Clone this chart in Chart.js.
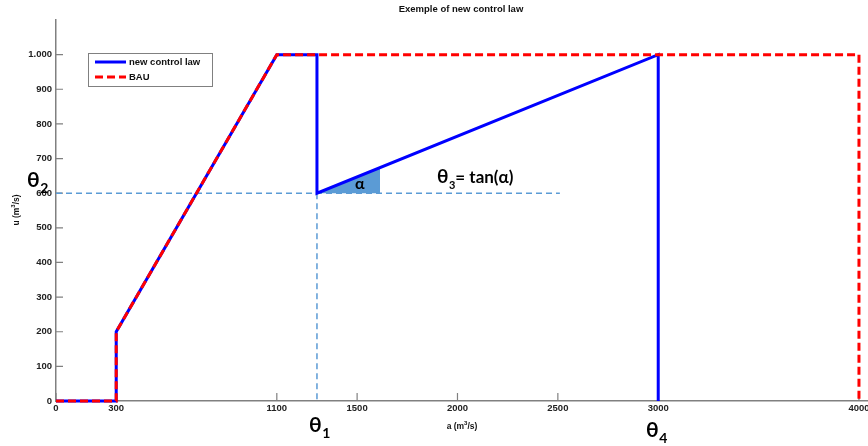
<!DOCTYPE html>
<html><head><meta charset="utf-8">
<script src="https://cdn.jsdelivr.net/npm/chart.js@4/dist/chart.umd.min.js"></script>
<style>html,body{margin:0;padding:0;background:#fff;overflow:hidden}</style>
</head><body>
<canvas id="c" width="868" height="446" style="display:block;width:868px;height:446px"></canvas>
<script>
// ---- data ----
const xTicks = [0, 300, 1100, 1500, 2000, 2500, 3000, 4000];
const yTicks = [0, 100, 200, 300, 400, 500, 600, 700, 800, 900, 1000];
const controlX = [0, 300, 300, 1100, 1300, 1300, 3000, 3000];
const controlY = [0, 0, 200, 1000, 1000, 600, 1000, 0];
const bauX = [0, 300, 300, 1100, 4000, 4000];
const bauY = [0, 0, 200, 1000, 1000, 0];
const guideHX = [0, 2510];
const guideHY = [600, 600];
const guideVX = [1300, 1300];
const guideVY = [600, 0];
const alphaX = [1300, 1614];
const alphaY = [600, 674];
const seriesNames = ['new control law', 'BAU'];

const pts = (xs, ys) => xs.map((x, i) => ({x: x, y: ys[i]}));
const BLUE = '#0000ff', RED = '#ff0000', LBLUE = '#5b9bd5';
const tickFont = {family: 'Liberation Sans, Arial, sans-serif', size: 9.5, weight: 'bold'};

const overlay = {
  id: 'overlay',
  beforeDatasetsDraw(chart) {
    const ctx = chart.ctx, xs = chart.scales.x, ys = chart.scales.y;
    const a = chart.chartArea;
    ctx.save();
    ctx.strokeStyle = '#808080'; ctx.lineWidth = 1.2;
    ctx.beginPath();
    xTicks.forEach(v => { const p = xs.getPixelForValue(v); ctx.moveTo(p, a.bottom); ctx.lineTo(p, a.bottom - 8); });
    yTicks.forEach(v => { const p = ys.getPixelForValue(v); ctx.moveTo(a.left, p); ctx.lineTo(a.left + 7, p); });
    ctx.stroke();
    ctx.restore();
  },
  afterDraw(chart) {
    const ctx = chart.ctx;
    ctx.save();
    ctx.fillStyle = '#111';
    ctx.textBaseline = 'middle';
    // title
    ctx.font = 'bold 9.5px "Liberation Sans", Arial, sans-serif';
    ctx.textAlign = 'center';
    ctx.fillText('Exemple of new control law', 461, 9);
    // x axis title
    ctx.font = 'bold 8.5px "Liberation Sans", Arial, sans-serif';
    ctx.textAlign = 'left';
    const xt1 = 'a (m', xt2 = '/s)';
    const w1 = ctx.measureText(xt1).width;
    ctx.font = 'bold 6px "Liberation Sans", Arial, sans-serif';
    const w3 = ctx.measureText('3').width;
    ctx.font = 'bold 8.5px "Liberation Sans", Arial, sans-serif';
    const w2 = ctx.measureText(xt2).width;
    let sx = 462 - (w1 + w3 + w2) / 2;
    ctx.fillText(xt1, sx, 427);
    ctx.font = 'bold 6px "Liberation Sans", Arial, sans-serif';
    ctx.fillText('3', sx + w1, 423);
    ctx.font = 'bold 8.5px "Liberation Sans", Arial, sans-serif';
    ctx.fillText(xt2, sx + w1 + w3, 427);
    // y axis title (rotated)
    ctx.save();
    ctx.translate(17, 210);
    ctx.rotate(-Math.PI / 2);
    const yt1 = 'u (m';
    const yw1 = ctx.measureText(yt1).width;
    sx = -(yw1 + w3 + w2) / 2;
    ctx.fillText(yt1, sx, 0);
    ctx.font = 'bold 6px "Liberation Sans", Arial, sans-serif';
    ctx.fillText('3', sx + yw1, -4);
    ctx.font = 'bold 8.5px "Liberation Sans", Arial, sans-serif';
    ctx.fillText(xt2, sx + yw1 + w3, 0);
    ctx.restore();

    // legend
    const lx = 88, ly = 53, lw = 124, lh = 33;
    ctx.fillStyle = '#fff';
    ctx.fillRect(lx, ly, lw, lh);
    ctx.strokeStyle = '#808080'; ctx.lineWidth = 1;
    ctx.strokeRect(lx + 0.5, ly + 0.5, lw, lh);
    const ds = chart.data.datasets;
    [[ds[0], 62], [ds[1], 77]].forEach(([d, yy]) => {
      ctx.strokeStyle = d.borderColor; ctx.lineWidth = 3;
      ctx.setLineDash(d.borderDash || []);
      ctx.beginPath(); ctx.moveTo(95, yy); ctx.lineTo(126, yy); ctx.stroke();
      ctx.setLineDash([]);
      ctx.fillStyle = '#111';
      ctx.font = 'bold 9.5px "Liberation Sans", Arial, sans-serif';
      ctx.textAlign = 'left';
      ctx.fillText(d.label, 129, yy + 0.5);
    });

    // theta annotations
    const big = (t, sub, x, y, size, subSize) => {
      ctx.font = 'bold ' + size + 'px Lato, "Open Sans", sans-serif';
      ctx.textAlign = 'left'; ctx.textBaseline = 'alphabetic';
      ctx.fillStyle = '#000';
      ctx.fillText(t, x, y);
      const w = ctx.measureText(t).width;
      ctx.font = 'bold ' + subSize + 'px Lato, "Open Sans", sans-serif';
      ctx.fillText(sub, x + w + 0.5, y + size * 0.3);
      return x + w + 0.5 + ctx.measureText(sub).width;
    };
    big('θ', '2', 27, 187, 21, 14);
    big('θ', '1', 309, 432, 21, 14);
    big('θ', '4', 646, 437, 21, 14);
    const ex = big('θ', '3', 437, 183, 19, 11);
    ctx.font = 'bold 17px Lato, "Open Sans", sans-serif';
    ctx.fillText('= tan(α)', ex, 183);
    ctx.font = 'bold 16px Lato, "Open Sans", sans-serif';
    ctx.fillText('α', 355, 189);
    ctx.restore();
  }
};

new Chart(document.getElementById('c'), {
  type: 'scatter',
  data: {
    datasets: [
      {label: seriesNames[0], data: pts(controlX, controlY), showLine: true, borderColor: BLUE, borderWidth: 3, pointRadius: 0, order: 2, clip: false, borderJoinStyle: 'miter'},
      {label: seriesNames[1], data: pts(bauX, bauY), showLine: true, borderColor: RED, borderWidth: 3, borderDash: [8, 4], pointRadius: 0, order: 1, clip: false},
      {label: 'alpha', data: pts(alphaX, alphaY), showLine: true, borderColor: LBLUE, borderWidth: 0, backgroundColor: LBLUE, fill: {value: 600}, pointRadius: 0, order: 5},
      {label: 'theta2', data: pts(guideHX, guideHY), showLine: true, borderColor: LBLUE, borderWidth: 1.5, borderDash: [6, 4], pointRadius: 0, order: 4},
      {label: 'theta1', data: pts(guideVX, guideVY), showLine: true, borderColor: LBLUE, borderWidth: 1.5, borderDash: [6, 4], pointRadius: 0, order: 4}
    ]
  },
  options: {
    responsive: false,
    animation: false,
    devicePixelRatio: 1,
    layout: {padding: {top: 20, right: 0, left: 0, bottom: 0}},
    plugins: {legend: {display: false}, tooltip: {enabled: false}, title: {display: false}},
    scales: {
      x: {
        type: 'linear', min: 0, max: 4045,
        afterBuildTicks: s => { s.ticks = xTicks.map(v => ({value: v})); },
        afterFit: s => { s.height = 45; s.paddingLeft = 0; s.paddingRight = 0; },
        ticks: {font: tickFont, color: '#222', padding: 2, maxRotation: 0, autoSkip: false, callback: v => String(v)},
        grid: {drawOnChartArea: false, drawTicks: false},
        border: {color: '#808080', width: 1.5}
      },
      y: {
        type: 'linear', min: 0, max: 1100,
        afterBuildTicks: s => { s.ticks = yTicks.map(v => ({value: v})); },
        afterFit: s => { s.width = 56; s.paddingTop = 0; s.paddingBottom = 0; },
        ticks: {font: tickFont, color: '#222', padding: 4, autoSkip: false, callback: v => v === 1000 ? '1.000' : String(v)},
        grid: {drawOnChartArea: false, drawTicks: false},
        border: {color: '#808080', width: 1.5}
      }
    }
  },
  plugins: [overlay]
});
</script>
</body></html>
